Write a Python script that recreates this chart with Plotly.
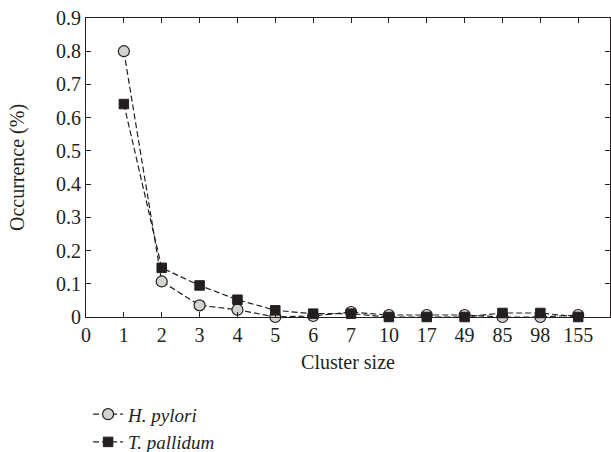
import plotly.graph_objects as go

cluster_labels = ["0", "1", "2", "3", "4", "5", "6", "7", "10", "17", "49", "85", "98", "155"]
sizes = ["1", "2", "3", "4", "5", "6", "7", "10", "17", "49", "85", "98", "155"]
h_pylori = [0.800, 0.107, 0.035, 0.022, 0.0, 0.003, 0.015, 0.006, 0.006, 0.006, 0.0, 0.0, 0.006]
t_pallidum = [0.641, 0.148, 0.095, 0.052, 0.020, 0.010, 0.010, 0.0, 0.0, 0.0, 0.012, 0.012, 0.0]
y_ticks = [0, 0.1, 0.2, 0.3, 0.4, 0.5, 0.6, 0.7, 0.8, 0.9]

pos = {lab: i for i, lab in enumerate(cluster_labels)}
xs = [pos[s] for s in sizes]

FONT = "Liberation Serif, DejaVu Serif, serif"
INK = "#231f20"

fig = go.Figure()
fig.add_trace(go.Scatter(
    x=xs, y=h_pylori, mode="lines+markers", name="<i>H. pylori</i>",
    line=dict(color=INK, width=1.2, dash="6px,3px"),
    marker=dict(symbol="circle", size=11, color="#d4d4ce", line=dict(color=INK, width=1.2)),
    cliponaxis=False,
))
fig.add_trace(go.Scatter(
    x=xs, y=t_pallidum, mode="lines+markers", name="<i>T. pallidum</i>",
    line=dict(color=INK, width=1.2, dash="6px,3px"),
    marker=dict(symbol="square", size=9.5, color=INK, line=dict(color=INK, width=1)),
    cliponaxis=False,
))

H = 490
fig.update_layout(
    width=611, height=H,
    margin=dict(l=86, r=1, t=18, b=H - 317),
    paper_bgcolor="white", plot_bgcolor="white",
    font=dict(family=FONT, size=20, color=INK),
    showlegend=True,
    legend=dict(x=0.004, y=-0.262, xanchor="left", yanchor="top",
                font=dict(family=FONT, size=19, color=INK), tracegroupgap=0,
                bgcolor="rgba(0,0,0,0)", itemwidth=30),
)
fig.update_xaxes(
    range=[0, 13.84], tickmode="array", tickvals=list(range(len(cluster_labels))),
    ticktext=cluster_labels, ticks="inside", ticklen=5, tickcolor=INK,
    showline=True, linecolor=INK, linewidth=1, mirror="ticks",
    showgrid=False, zeroline=False,
    title=dict(text="Cluster size", font=dict(family=FONT, size=20, color=INK), standoff=9),
    tickfont=dict(family=FONT, size=20, color=INK),
)
fig.update_yaxes(
    range=[0, 0.9], tickmode="array", tickvals=y_ticks,
    ticktext=["0"] + [f"{v:.1f}" for v in y_ticks[1:]],
    ticks="inside", ticklen=5, tickcolor=INK,
    showline=True, linecolor=INK, linewidth=1, mirror="ticks",
    showgrid=False, zeroline=False, ticklabeloverflow="allow",
    title=dict(text="Occurrence (%)", font=dict(family=FONT, size=20, color=INK), standoff=26),
    tickfont=dict(family=FONT, size=20, color=INK),
)

fig.write_html("out.html", config={"displayModeBar": False},
               post_script="document.body.style.margin='0';")
